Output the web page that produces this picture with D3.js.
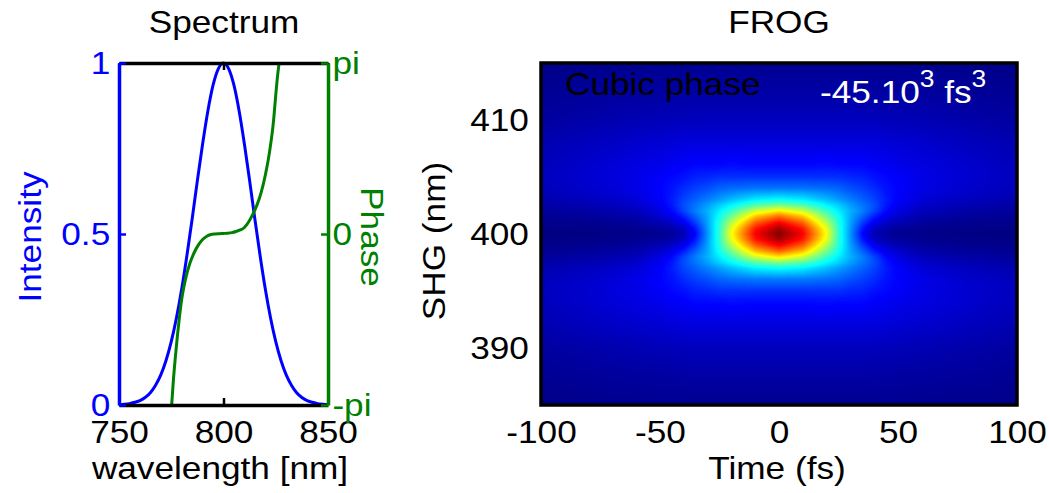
<!DOCTYPE html>
<html>
<head>
<meta charset="utf-8">
<script src="https://cdn.jsdelivr.net/npm/d3@7"></script>
<style>
html, body { margin: 0; padding: 0; background: #fff; }
svg { display: block; font-family: "Liberation Sans", Arial, Helvetica, sans-serif; }
</style>
</head>
<body>
<svg id="fig" width="1050" height="493"></svg>
<script>
// ---------------- Spectrum panel ----------------
const specWavelength = [750, 752.5, 755, 757.5, 760, 762.5, 765, 767.5, 770, 772.5,
  775, 777.5, 780, 782.5, 785, 787.5, 790, 792.5, 795, 797.5, 800,
  802.5, 805, 807.5, 810, 812.5, 815, 817.5, 820, 822.5, 825,
  827.5, 830, 832.5, 835, 837.5, 840, 842.5, 845, 847.5, 850];
const specIntensity = [0.001, 0.002, 0.004, 0.008, 0.013, 0.022, 0.036, 0.058, 0.088, 0.130,
  0.185, 0.255, 0.339, 0.437, 0.544, 0.656, 0.763, 0.859, 0.935, 0.983, 1.000,
  0.983, 0.935, 0.859, 0.763, 0.656, 0.544, 0.437, 0.339, 0.255, 0.185,
  0.130, 0.088, 0.058, 0.036, 0.022, 0.013, 0.008, 0.004, 0.002, 0.001];

const phaseWavelength = [775.2, 776, 777, 778, 779, 780, 781, 782, 784, 786, 788, 790, 792, 794,
  796, 798, 800, 802, 804, 806, 808, 810, 812, 814, 816, 818, 820, 822, 824, 825, 826, 826.6];
const phaseRad = [-3.14, -2.7, -2.25, -1.85, -1.5, -1.2, -0.98, -0.8, -0.53, -0.34, -0.2, -0.1, -0.04, -0.01,
  0.0, 0.005, 0.01, 0.015, 0.025, 0.045, 0.075, 0.12, 0.22, 0.36, 0.53, 0.76, 1.08, 1.5, 2.1, 2.55, 2.95, 3.14];

const specXTicks = [750, 800, 850];
const intensityTicks = [0, 0.5, 1];
const intensityTickLabels = ["0", "0.5", "1"];
const phaseTicks = [-Math.PI, 0, Math.PI];
const phaseTickLabels = ["-pi", "0", "pi"];

// ---------------- FROG panel ----------------
// Trace is symmetric in delay and about the 400 nm centre line:
// rows = |wavelength - 400| (nm), columns = |delay| (fs).
const frogCentre = 400;
const frogDelay = [0, 10, 20, 25, 30, 35, 40, 45, 50, 60, 70, 80, 90, 100];
const frogOffset = [0, 0.5, 1, 1.5, 2, 2.5, 3, 4, 5, 6, 8, 10, 12, 15];
const frogRows = [
  [1.00, 0.88, 0.62, 0.42, 0.27, 0.13, 0.05, 0.03, 0.015, 0.01, 0.005, 0.003, 0.002, 0.0],
  [0.96, 0.85, 0.60, 0.42, 0.275, 0.15, 0.07, 0.04, 0.028, 0.017, 0.012, 0.009, 0.007, 0.005],
  [0.88, 0.78, 0.55, 0.41, 0.285, 0.185, 0.11, 0.07, 0.05, 0.027, 0.02, 0.015, 0.012, 0.01],
  [0.78, 0.69, 0.49, 0.39, 0.29, 0.22, 0.15, 0.10, 0.075, 0.042, 0.032, 0.025, 0.021, 0.017],
  [0.65, 0.58, 0.43, 0.36, 0.30, 0.25, 0.19, 0.13, 0.095, 0.057, 0.045, 0.036, 0.03, 0.025],
  [0.50, 0.46, 0.37, 0.33, 0.28, 0.24, 0.20, 0.145, 0.11, 0.072, 0.058, 0.048, 0.041, 0.035],
  [0.38, 0.36, 0.31, 0.28, 0.25, 0.22, 0.19, 0.15, 0.12, 0.085, 0.07, 0.06, 0.052, 0.045],
  [0.24, 0.24, 0.23, 0.22, 0.20, 0.185, 0.165, 0.14, 0.125, 0.10, 0.085, 0.073, 0.065, 0.057],
  [0.17, 0.17, 0.17, 0.17, 0.16, 0.155, 0.14, 0.13, 0.12, 0.10, 0.088, 0.077, 0.068, 0.06],
  [0.13, 0.13, 0.135, 0.13, 0.13, 0.13, 0.12, 0.115, 0.105, 0.095, 0.085, 0.075, 0.066, 0.058],
  [0.09, 0.09, 0.09, 0.09, 0.09, 0.09, 0.09, 0.085, 0.08, 0.075, 0.068, 0.06, 0.053, 0.047],
  [0.06, 0.06, 0.06, 0.06, 0.06, 0.06, 0.058, 0.056, 0.055, 0.05, 0.045, 0.04, 0.035, 0.03],
  [0.04, 0.04, 0.04, 0.04, 0.04, 0.04, 0.038, 0.037, 0.035, 0.033, 0.03, 0.027, 0.024, 0.02],
  [0.015, 0.015, 0.015, 0.015, 0.015, 0.015, 0.015, 0.015, 0.015, 0.014, 0.013, 0.012, 0.01, 0.008]
];
const frogXTicks = [-100, -50, 0, 50, 100];
const frogYTicks = [390, 400, 410];

// ---------------- drawing ----------------
const svg = d3.select("#fig");
const SX = 1.1;           // horizontal stretch of all lettering
const FS = 32;            // font size
const BLUE = "#0000ff", GREEN = "#008000";
const plain = d => String(d);   // hyphen-minus, as on the axes

function label(x, y, str, opts = {}) {
  const { rotate = 0, anchor = "middle", color = "#000", size = FS } = opts;
  return svg.append("text")
    .attr("transform", `translate(${x},${y}) rotate(${rotate}) scale(${SX},1)`)
    .attr("text-anchor", anchor)
    .attr("font-size", size)
    .attr("fill", color)
    .text(str);
}

function styleAxis(g, color, width) {
  g.attr("font-size", FS).attr("font-family", null);
  g.select(".domain").attr("stroke", color).attr("stroke-width", width);
  g.selectAll(".tick line").attr("stroke", color).attr("stroke-width", 2.5);
  g.selectAll(".tick text").attr("fill", color).attr("transform", `scale(${SX},1)`);
}

// ---- Spectrum ----
const xS = d3.scaleLinear().domain([750, 850]).range([119, 328]);
const yI = d3.scaleLinear().domain([0, 1]).range([405, 63]);
const yP = d3.scaleLinear().domain([-Math.PI, Math.PI]).range([405, 63]);

svg.append("clipPath").attr("id", "specClip")
  .append("rect").attr("x", 119).attr("y", 61).attr("width", 209).attr("height", 346);

const specG = svg.append("g").attr("clip-path", "url(#specClip)");
specG.append("path")
  .datum(d3.zip(specWavelength, specIntensity))
  .attr("fill", "none").attr("stroke", BLUE).attr("stroke-width", 3)
  .attr("d", d3.line().x(d => xS(d[0])).y(d => yI(d[1])).curve(d3.curveMonotoneX));
specG.append("path")
  .datum(d3.zip(phaseWavelength, phaseRad))
  .attr("fill", "none").attr("stroke", GREEN).attr("stroke-width", 3)
  .attr("d", d3.line().x(d => xS(d[0])).y(d => yP(d[1])).curve(d3.curveMonotoneX));

const gBot = svg.append("g").attr("transform", "translate(0,405)")
  .call(d3.axisBottom(xS).tickValues(specXTicks).tickSizeInner(-7).tickSizeOuter(0)
    .tickPadding(15).tickFormat(plain));
styleAxis(gBot, "#000", 3.5);
const gTop = svg.append("g").attr("transform", "translate(0,63)")
  .call(d3.axisTop(xS).tickValues(specXTicks).tickSizeInner(-7).tickSizeOuter(0).tickFormat(""));
styleAxis(gTop, "#000", 3.5);

const gLeft = svg.append("g").attr("transform", "translate(119,0)")
  .call(d3.axisLeft(yI).tickValues(intensityTicks).tickSizeInner(-7).tickSizeOuter(0)
    .tickPadding(8).tickFormat((d, i) => intensityTickLabels[i]));
styleAxis(gLeft, BLUE, 3.5);
const gRight = svg.append("g").attr("transform", "translate(328,0)")
  .call(d3.axisRight(yP).tickValues(phaseTicks).tickSizeInner(-7).tickSizeOuter(0)
    .tickPadding(4).tickFormat((d, i) => phaseTickLabels[i]));
styleAxis(gRight, GREEN, 3.5);

label(224, 33, "Spectrum");
label(220, 479, "wavelength [nm]");
label(41, 237, "Intensity", { rotate: -90, color: BLUE });
label(361, 237, "Phase", { rotate: 90, color: GREEN });

// ---- FROG ----
const xF = d3.scaleLinear().domain([-100, 100]).range([541, 1017]);
const yF = d3.scaleLinear().domain([385, 415]).range([405, 63]);

const jet = d3.scaleLinear()
  .domain([0, 0.125, 0.375, 0.625, 0.875, 1])
  .range(["#000080", "#0000ff", "#00ffff", "#ffff00", "#ff0000", "#800000"])
  .clamp(true);
const lut = d3.range(256).map(k => d3.rgb(jet(k / 255)));

function locate(grid, v) {
  const n = grid.length;
  if (v >= grid[n - 1]) return [n - 2, 1];
  const i = Math.max(0, d3.bisectRight(grid, v) - 1);
  return [i, (v - grid[i]) / (grid[i + 1] - grid[i])];
}

const px0 = xF.range()[0], px1 = xF.range()[1];
const py0 = yF.range()[1], py1 = yF.range()[0];
const pw = px1 - px0, ph = py1 - py0;
const canvas = document.createElement("canvas");
canvas.width = pw; canvas.height = ph;
const ctx = canvas.getContext("2d");
const img = ctx.createImageData(pw, ph);
for (let j = 0; j < ph; j++) {
  const off = Math.abs(yF.invert(py0 + j + 0.5) - frogCentre);
  const [iv, fv] = locate(frogOffset, off);
  const r0 = frogRows[iv], r1 = frogRows[iv + 1];
  for (let i = 0; i < pw; i++) {
    const del = Math.abs(xF.invert(px0 + i + 0.5));
    const [it, ft] = locate(frogDelay, del);
    const a = r0[it] * (1 - ft) + r0[it + 1] * ft;
    const b = r1[it] * (1 - ft) + r1[it + 1] * ft;
    const val = a * (1 - fv) + b * fv;
    const c = lut[Math.max(0, Math.min(255, Math.round(val * 255)))];
    const p = (j * pw + i) * 4;
    img.data[p] = c.r; img.data[p + 1] = c.g; img.data[p + 2] = c.b; img.data[p + 3] = 255;
  }
}
ctx.putImageData(img, 0, 0);
svg.append("image")
  .attr("x", px0).attr("y", py0).attr("width", pw).attr("height", ph)
  .attr("preserveAspectRatio", "none")
  .attr("href", canvas.toDataURL());

const gFx = svg.append("g").attr("transform", `translate(0,${py1})`)
  .call(d3.axisBottom(xF).tickValues(frogXTicks).tickSize(0).tickPadding(15).tickFormat(plain));
styleAxis(gFx, "#000", 0);
const gFy = svg.append("g").attr("transform", `translate(${px0},0)`)
  .call(d3.axisLeft(yF).tickValues(frogYTicks).tickSize(0).tickPadding(11).tickFormat(plain));
styleAxis(gFy, "#000", 0);

svg.append("rect").attr("x", px0).attr("y", py0).attr("width", pw).attr("height", ph)
  .attr("fill", "none").attr("stroke", "#000").attr("stroke-width", 3.5);

label(779, 33, "FROG");
label(777, 479, "Time (fs)");
label(445, 241, "SHG (nm)", { rotate: -90 });
label(565, 95, "Cubic phase", { anchor: "start" });

const tod = svg.append("text")
  .attr("transform", `translate(820,103) scale(${SX},1)`)
  .attr("font-size", FS).attr("fill", "#fff");
tod.append("tspan").text("-45.10");
tod.append("tspan").attr("font-size", 24).attr("dy", -16).text("3");
tod.append("tspan").attr("dy", 16).text(" fs");
tod.append("tspan").attr("font-size", 24).attr("dy", -16).text("3");
</script>
</body>
</html>
